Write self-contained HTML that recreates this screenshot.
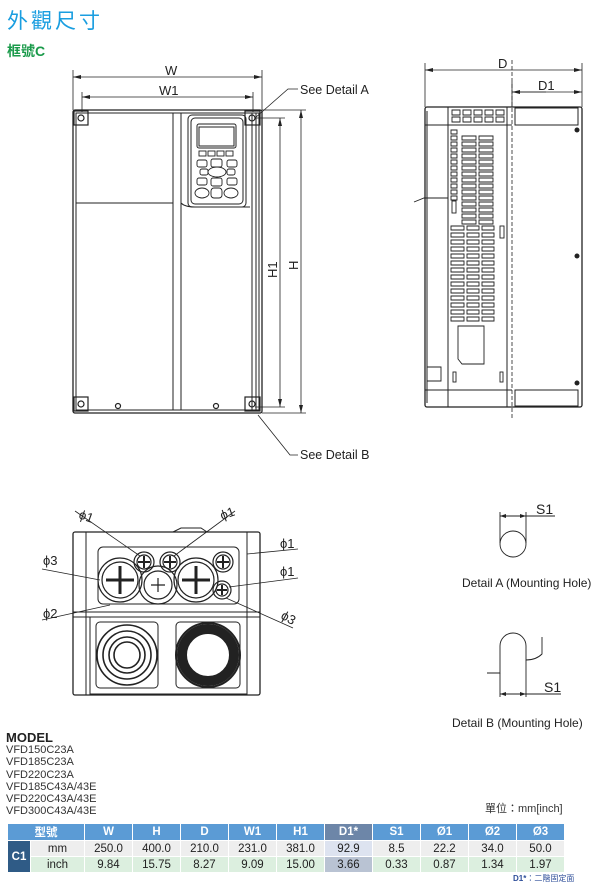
<!DOCTYPE html>
<html><head><meta charset="utf-8"><style>
body{margin:0;width:611px;height:886px;background:#fff;position:relative;overflow:hidden;font-family:"Liberation Sans","Noto Sans CJK TC",sans-serif}
.t{position:absolute;white-space:nowrap}
table{position:absolute;left:7px;top:823px;border-collapse:collapse;font-size:11.5px;color:#222}
td{height:15px;padding:0;text-align:center;border:1px solid #fff}
.h td{background:#5b9bd5;color:#fff;font-weight:bold}
.m td{background:#eeeeee}.i td{background:#dcefdf}
</style></head><body>
<div class="t" style="left:7px;top:5px;font-size:21px;color:#1a9ee0;letter-spacing:3px">外觀尺寸</div>
<div class="t" style="left:7px;top:41px;font-size:14px;color:#1a9a4a;font-weight:bold">框號C</div>
<svg width="611" height="886" style="position:absolute;left:0;top:0" fill="none" stroke="#222" stroke-width="1" font-family="Liberation Sans,sans-serif">
<!-- dims front -->
<g stroke-width="0.8">
<line x1="73" y1="70" x2="73" y2="110"/><line x1="262" y1="70" x2="262" y2="110"/>
<line x1="73" y1="77" x2="262" y2="77"/>
<line x1="82" y1="92" x2="82" y2="112"/><line x1="253" y1="92" x2="253" y2="112"/>
<line x1="82" y1="97" x2="253" y2="97"/>
<line x1="262" y1="110" x2="306" y2="110"/><line x1="262" y1="413" x2="306" y2="413"/>
<line x1="301" y1="110" x2="301" y2="413"/>
<line x1="255" y1="118" x2="285" y2="118"/><line x1="255" y1="407" x2="285" y2="407"/>
<line x1="280" y1="118" x2="280" y2="407"/>
<polyline points="255,118 288,89 298,89"/><polyline points="258,415 290,455 298,455"/>
<line x1="425" y1="63" x2="425" y2="107"/><line x1="582" y1="63" x2="582" y2="107"/>
<line x1="425" y1="70" x2="582" y2="70"/>
<line x1="512" y1="82" x2="512" y2="107"/><line x1="512" y1="92" x2="546" y2="92"/><line x1="512" y1="92" x2="582" y2="92"/>
</g>
<g fill="#222" stroke="none">
<polygon points="73,77 81,75 81,79"/><polygon points="262,77 254,75 254,79"/>
<polygon points="82,97 90,95 90,99"/><polygon points="253,97 245,95 245,99"/>
<polygon points="301,110 299,118 303,118"/><polygon points="301,413 299,405 303,405"/>
<polygon points="280,118 278,126 282,126"/><polygon points="280,407 278,399 282,399"/>
<polygon points="425,70 433,68 433,72"/><polygon points="582,70 574,68 574,72"/>
<polygon points="512,92 520,90 520,94"/><polygon points="582,92 574,90 574,94"/>
</g>
<g fill="#222" stroke="none" font-size="13">
<text x="165" y="75">W</text><text x="159" y="95">W1</text>
<text x="498" y="68">D</text><text x="538" y="90">D1</text>
<text x="300" y="94" font-size="12.5">See Detail A</text>
<text x="300" y="459" font-size="12.5">See Detail B</text>
<text transform="translate(277,278) rotate(-90)">H1</text>
<text transform="translate(298,270) rotate(-90)">H</text>
</g>
<!-- front view -->
<rect x="73" y="110" width="189" height="303" rx="2" stroke-width="1.3"/>
<rect x="76" y="113" width="183" height="297"/>
<line x1="173" y1="113" x2="173" y2="410"/><line x1="181" y1="113" x2="181" y2="410"/>
<line x1="252" y1="113" x2="252" y2="410"/><line x1="256" y1="113" x2="256" y2="410"/>
<path d="M76 203 H173 M181 203 Q185 207 195 207 H250"/>
<rect x="188" y="115" width="58" height="92" rx="4"/>
<rect x="191" y="118" width="52" height="86" rx="4"/>
<rect x="197" y="124" width="39" height="24" rx="2"/><rect x="199" y="127" width="35" height="19"/>
<g stroke-width="0.9">
<rect x="199" y="151" width="7" height="5"/><rect x="208" y="151" width="7" height="5"/><rect x="217" y="151" width="7" height="5"/><rect x="226" y="151" width="7" height="5"/>
<rect x="197" y="160" width="10" height="7" rx="2"/><rect x="211" y="159" width="11" height="8" rx="2"/><rect x="227" y="160" width="10" height="7" rx="2"/>
<ellipse cx="217" cy="172" rx="9" ry="5"/><rect x="200" y="169" width="8" height="6" rx="2"/><rect x="227" y="169" width="8" height="6" rx="2"/>
<rect x="197" y="178" width="10" height="7" rx="2"/><rect x="211" y="178" width="11" height="8" rx="2"/><rect x="227" y="178" width="10" height="7" rx="2"/>
<ellipse cx="202" cy="193" rx="7" ry="5"/><rect x="211" y="188" width="11" height="10" rx="3"/><ellipse cx="231" cy="193" rx="7" ry="5"/>
</g>
<g stroke-width="1.2">
<rect x="74" y="111" width="14" height="14"/><circle cx="81" cy="118" r="3"/>
<rect x="245" y="111" width="15" height="14"/><circle cx="252" cy="118" r="3"/>
<rect x="74" y="397" width="14" height="14"/><circle cx="81" cy="404" r="3"/>
<rect x="245" y="397" width="15" height="14"/><circle cx="252" cy="404" r="3"/>
<circle cx="118" cy="406" r="2.5"/><circle cx="216" cy="406" r="2.5"/>
</g>
<!-- side view -->
<rect x="425" y="107" width="157" height="300" rx="2" stroke-width="1.3"/>
<line x1="448" y1="107" x2="448" y2="407"/><line x1="507" y1="107" x2="507" y2="407"/>
<line x1="512" y1="60" x2="512" y2="420" stroke-dasharray="4,2" stroke-width="0.8"/>
<line x1="425" y1="125" x2="512" y2="125"/><line x1="425" y1="390" x2="512" y2="390"/>
<rect x="515" y="108" width="63" height="17"/><rect x="515" y="390" width="63" height="16"/>
<line x1="427" y1="111" x2="427" y2="403"/>
<g fill="#222" stroke="none"><circle cx="577" cy="130" r="2.5"/><circle cx="577" cy="256" r="2.5"/><circle cx="577" cy="383" r="2.5"/></g>
<g stroke-width="0.9">
<path d="M452 110h8v5h-8zM463 110h8v5h-8zM474 110h8v5h-8zM485 110h8v5h-8zM496 110h8v5h-8zM452 117h8v5h-8zM463 117h8v5h-8zM474 117h8v5h-8zM485 117h8v5h-8zM496 117h8v5h-8z"/>
<path d="M451 130h6v4h-6zM451 136h6v4h-6zM451 142h6v4h-6zM451 148h6v4h-6zM451 154h6v4h-6zM451 160h6v4h-6zM451 166h6v4h-6zM451 172h6v4h-6zM451 178h6v4h-6zM451 184h6v4h-6zM451 190h6v4h-6zM451 196h6v4h-6z"/>
<path d="M462 136h14v4h-14zM479 136h14v4h-14zM462 142h14v4h-14zM479 142h14v4h-14zM462 148h14v4h-14zM479 148h14v4h-14zM462 154h14v4h-14zM479 154h14v4h-14zM462 160h14v4h-14zM479 160h14v4h-14zM462 166h14v4h-14zM479 166h14v4h-14zM462 172h14v4h-14zM479 172h14v4h-14zM462 178h14v4h-14zM479 178h14v4h-14zM462 184h14v4h-14zM479 184h14v4h-14zM462 190h14v4h-14zM479 190h14v4h-14zM462 196h14v4h-14zM479 196h14v4h-14zM462 202h14v4h-14zM479 202h14v4h-14zM462 208h14v4h-14zM479 208h14v4h-14zM462 214h14v4h-14zM479 214h14v4h-14zM462 220h14v4h-14zM479 220h14v4h-14z"/>
<path d="M451 226h13v4h-13zM467 226h12v4h-12zM482 226h12v4h-12zM451 233h13v4h-13zM467 233h12v4h-12zM482 233h12v4h-12zM451 240h13v4h-13zM467 240h12v4h-12zM482 240h12v4h-12zM451 247h13v4h-13zM467 247h12v4h-12zM482 247h12v4h-12zM451 254h13v4h-13zM467 254h12v4h-12zM482 254h12v4h-12zM451 261h13v4h-13zM467 261h12v4h-12zM482 261h12v4h-12zM451 268h13v4h-13zM467 268h12v4h-12zM482 268h12v4h-12zM451 275h13v4h-13zM467 275h12v4h-12zM482 275h12v4h-12zM451 282h13v4h-13zM467 282h12v4h-12zM482 282h12v4h-12zM451 289h13v4h-13zM467 289h12v4h-12zM482 289h12v4h-12zM451 296h13v4h-13zM467 296h12v4h-12zM482 296h12v4h-12zM451 303h13v4h-13zM467 303h12v4h-12zM482 303h12v4h-12zM451 310h13v4h-13zM467 310h12v4h-12zM482 310h12v4h-12zM451 317h13v4h-13zM467 317h12v4h-12zM482 317h12v4h-12z"/>
<path d="M458 326h26v38h-22l-4-5z"/>
<rect x="452" y="201" width="4" height="12"/><rect x="500" y="226" width="4" height="12"/>
<rect x="453" y="372" width="3" height="10"/><rect x="500" y="372" width="3" height="10"/>
<path d="M427 367h14v14h-14z"/><path d="M414 202 L424 198 448 198"/>
</g>
<!-- bottom view -->
<rect x="73" y="532" width="187" height="163" rx="2" stroke-width="1.3"/>
<line x1="86" y1="532" x2="86" y2="695"/><line x1="247" y1="532" x2="247" y2="695"/>
<line x1="73" y1="612" x2="260" y2="612"/><line x1="73" y1="617" x2="260" y2="617"/>
<path d="M173 532 l8 -4 h20 l6 4"/>
<rect x="98" y="547" width="141" height="57" rx="5"/>
<rect x="90" y="617" width="157" height="77"/>
<g stroke-width="1.2">
<circle cx="120" cy="580" r="22"/><circle cx="120" cy="580" r="18"/><path d="M106 580h28M120 566v28" stroke-width="3"/>
<circle cx="196" cy="580" r="22"/><circle cx="196" cy="580" r="18"/><path d="M182 580h28M196 566v28" stroke-width="3"/>
<circle cx="158" cy="585" r="19"/><circle cx="158" cy="585" r="14"/><path d="M151 585h14M158 578v14"/>
<circle cx="144" cy="562" r="10"/><circle cx="144" cy="562" r="7"/><path d="M138 562h12M144 556v12" stroke-width="2"/>
<circle cx="170" cy="562" r="10"/><circle cx="170" cy="562" r="7"/><path d="M164 562h12M170 556v12" stroke-width="2"/>
<circle cx="223" cy="562" r="10"/><circle cx="223" cy="562" r="7"/><path d="M217 562h12M223 556v12" stroke-width="2"/>
<circle cx="222" cy="590" r="9"/><circle cx="222" cy="590" r="6"/><path d="M217 590h10M222 585v10" stroke-width="2"/>
</g>
<rect x="96" y="622" width="62" height="66" rx="4"/><rect x="176" y="622" width="64" height="66" rx="4"/>
<g stroke-width="1.6"><circle cx="127" cy="655" r="30"/><circle cx="127" cy="655" r="24"/><circle cx="127" cy="655" r="18"/><circle cx="127" cy="655" r="13"/></g>
<circle cx="208" cy="655" r="26" stroke="#222" stroke-width="10"/><circle cx="208" cy="655" r="32" stroke-width="2"/>
<g stroke-width="0.8">
<line x1="75" y1="511" x2="140" y2="556"/><line x1="235" y1="511" x2="174" y2="556"/>
<line x1="247" y1="554" x2="298" y2="549"/><line x1="229" y1="587" x2="298" y2="578"/>
<line x1="42" y1="569" x2="100" y2="580"/><line x1="42" y1="620" x2="110" y2="605"/>
<line x1="226" y1="598" x2="293" y2="628"/>
</g>
<g fill="#222" stroke="none" font-size="13">
<text transform="translate(78,518) rotate(20)">ϕ1</text><text transform="translate(222,520) rotate(-20)">ϕ1</text>
<text x="280" y="548">ϕ1</text><text x="280" y="576">ϕ1</text>
<text x="43" y="565">ϕ3</text><text x="43" y="618">ϕ2</text><text transform="translate(280,618) rotate(30)">ϕ3</text>
</g>
<!-- details -->
<g stroke-width="0.9">
<line x1="500" y1="512" x2="500" y2="543"/><line x1="526" y1="512" x2="526" y2="543"/>
<line x1="500" y1="516" x2="555" y2="516"/><circle cx="513" cy="544" r="13"/>
<path d="M487 673h13V646a13 13 0 0 1 26 0v14q10 0 16 -6v-17"/>
<line x1="500" y1="673" x2="500" y2="697"/><line x1="526" y1="660" x2="526" y2="697"/>
<line x1="500" y1="694" x2="561" y2="694"/>
</g>
<g fill="#222" stroke="none"><polygon points="500,516 506,514 506,518"/><polygon points="526,516 520,514 520,518"/>
<polygon points="500,694 506,692 506,696"/><polygon points="526,694 520,692 520,696"/>
<text x="536" y="514" font-size="14">S1</text><text x="544" y="692" font-size="14">S1</text>
<text x="462" y="587" font-size="12">Detail A (Mounting Hole)</text>
<text x="452" y="727" font-size="12">Detail B (Mounting Hole)</text></g>
</svg>
<div class="t" style="left:6px;top:730px;font-size:13px;font-weight:bold;color:#222">MODEL</div>
<div class="t" style="left:6px;top:744px;font-size:11px;line-height:12.3px;color:#333">VFD150C23A<br>VFD185C23A<br>VFD220C23A<br>VFD185C43A/43E<br>VFD220C43A/43E<br>VFD300C43A/43E</div>
<div class="t" style="left:485px;top:800px;font-size:11px;color:#333">單位：mm[inch]</div>
<table>
<tr class="h"><td colspan="2" style="width:76px">型號</td><td style="width:47px">W</td><td style="width:47px">H</td><td style="width:47px">D</td><td style="width:47px">W1</td><td style="width:47px">H1</td><td style="width:47px;background:#6d86a8">D1*</td><td style="width:47px">S1</td><td style="width:47px">Ø1</td><td style="width:47px">Ø2</td><td style="width:47px">Ø3</td></tr>
<tr class="m"><td rowspan="2" style="width:22px;background:#2f5b86;color:#fff;font-weight:bold">C1</td><td>mm</td><td>250.0</td><td>400.0</td><td>210.0</td><td>231.0</td><td>381.0</td><td style="background:#dde3f0">92.9</td><td>8.5</td><td>22.2</td><td>34.0</td><td>50.0</td></tr>
<tr class="i"><td>inch</td><td>9.84</td><td>15.75</td><td>8.27</td><td>9.09</td><td>15.00</td><td style="background:#b9c3d3">3.66</td><td>0.33</td><td>0.87</td><td>1.34</td><td>1.97</td></tr>
</table>
<div class="t" style="left:513px;top:873px;font-size:8px;color:#2f4f9a"><b>D1*</b>：二階固定面</div>
</body></html>
